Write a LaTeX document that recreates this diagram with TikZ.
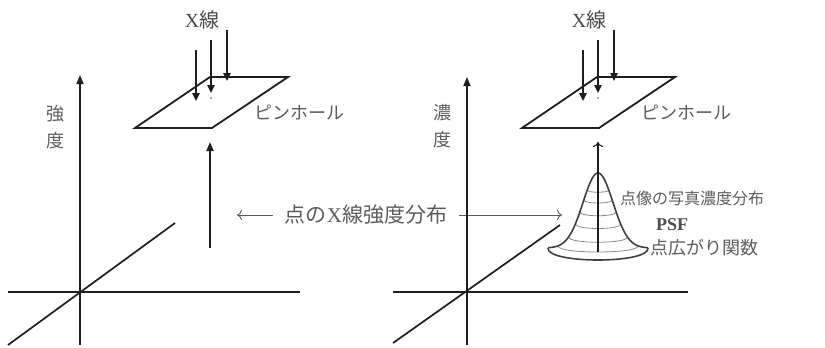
\documentclass[tikz,border=0pt]{standalone}
\usepackage{fontspec}
\setmainfont{Liberation Serif}
\newfontfamily\jp{Noto Sans CJK JP}
\usetikzlibrary{arrows.meta}
\definecolor{ink}{HTML}{1E1E1E}
\definecolor{txt}{HTML}{5C5C5C}
\definecolor{soft}{HTML}{8A8A8A}
\begin{document}
\begin{tikzpicture}[x=1pt,y=-1pt,
  axisline/.style={draw=ink,line width=1.7pt},
  axisarrow/.style={axisline,-{Triangle[length=9pt,width=7pt]}},
  ray/.style={draw=ink,line width=1.6pt,-{Triangle[length=8pt,width=7.5pt]}},
  pinplate/.style={draw=ink,line width=1.8pt,line join=miter},
  jlabel/.style={text=txt,inner sep=0pt,font=\jp\fontsize{18pt}{27pt}\selectfont},
  xlabel/.style={text=txt!80!black,inner sep=0pt,font=\fontsize{20pt}{24pt}\selectfont},
  pointer/.style={draw=txt,line width=0.9pt,-{To[length=5pt,width=10pt]}},
  bell/.style={draw=ink!85,line width=1.6pt},
  contour/.style={draw=soft,line width=0.8pt},
]
\useasboundingbox (0,0) rectangle (825,348);

% ---------- left: intensity ----------
\coordinate (lO) at (80,292);
\coordinate (lYb) at (80,345);  \coordinate (lYt) at (80,75);
\coordinate (lXl) at (8,292);   \coordinate (lXr) at (300,292);
\coordinate (lZb) at (8,345);   \coordinate (lZt) at (175,223);
\draw[axisarrow] (lYb) -- (lYt);
\draw[axisline] (lXl) -- (lXr);
\draw[axisline] (lZb) -- (lZt);
\node[jlabel,align=center] (lYlab) at (55,127) {強\\度};

% pinhole plate
\coordinate (lP1) at (135,128); \coordinate (lP2) at (212,128);
\coordinate (lP3) at (288,77);  \coordinate (lP4) at (210,77);
\draw[pinplate] (lP1) -- (lP2) -- (lP3) -- (lP4) -- cycle;
\node[jlabel] (lPin) at (299,112) {ピンホール};
\fill[soft] (211,98) circle (1.2);

% incoming X-rays
\node[xlabel] (lXray) at (202,20) {X{\jp 線}};
\coordinate (lR1a) at (196,50); \coordinate (lR1b) at (196,101);
\coordinate (lR2a) at (211,40); \coordinate (lR2b) at (211,93);
\coordinate (lR3a) at (227,30); \coordinate (lR3b) at (227,81);
\draw[ray] (lR1a) -- (lR1b);
\draw[ray] (lR2a) -- (lR2b);
\draw[ray] (lR3a) -- (lR3b);

% point intensity below the pinhole
\coordinate (lUa) at (210,248); \coordinate (lUb) at (210,142);
\draw[axisarrow] (lUa) -- (lUb);

% ---------- shared label ----------
\node[jlabel,font=\jp\fontsize{21pt}{24pt}\selectfont,inner xsep=12pt] (mid) at (366,215)
  {点の{\rmfamily X}線強度分布};
\coordinate (midL) at (237,215);
\coordinate (midR) at (562,215);
\draw[pointer] (mid.west) -- (midL);
\draw[pointer] (mid.east) -- (midR);

% ---------- right: density ----------
\coordinate (rO) at (467,292);
\coordinate (rYb) at (467,345);  \coordinate (rYt) at (467,77);
\coordinate (rXl) at (393,292);  \coordinate (rXr) at (688,292);
\coordinate (rZb) at (393,343);  \coordinate (rZt) at (560,225);
\draw[axisarrow] (rYb) -- (rYt);
\draw[axisline] (rXl) -- (rXr);
\draw[axisline] (rZb) -- (rZt);
\node[jlabel,align=center] (rYlab) at (442,126) {濃\\度};

% pinhole plate
\coordinate (rP1) at (522,128); \coordinate (rP2) at (599,128);
\coordinate (rP3) at (675,77);  \coordinate (rP4) at (597,77);
\draw[pinplate] (rP1) -- (rP2) -- (rP3) -- (rP4) -- cycle;
\node[jlabel] (rPin) at (686,112) {ピンホール};
\fill[soft] (598,98) circle (1.2);

% incoming X-rays
\node[xlabel] (rXray) at (589,20) {X{\jp 線}};
\coordinate (rR1a) at (583,50); \coordinate (rR1b) at (583,101);
\coordinate (rR2a) at (598,40); \coordinate (rR2b) at (598,93);
\coordinate (rR3a) at (614,30); \coordinate (rR3b) at (614,81);
\draw[ray] (rR1a) -- (rR1b);
\draw[ray] (rR2a) -- (rR2b);
\draw[ray] (rR3a) -- (rR3b);

% point spread function: bell with contour rings
\foreach \yy/\w/\d in {190/10.8/3, 200/14.2/4, 212/18.2/5, 224/22.6/6, 237/29.4/7, 246/40/8}
  \draw[contour] ({598-\w},\yy) .. controls ({598-\w},{\yy+\d}) and ({598+\w},{\yy+\d}) .. ({598+\w},\yy);
\draw[bell] plot[domain=-50:50,samples=81,smooth] ({598+\x},{248-75*exp(-\x*\x/450)});
\draw[bell] (548,248) .. controls (546,264) and (650,264) .. (648,248);
\coordinate (rUa) at (598,252); \coordinate (rUb) at (598,142);
\draw[draw=ink,line width=1.1pt,-{To[length=5pt,width=10pt]}] (rUa) -- (rUb);

\node[jlabel,font=\jp\fontsize{16pt}{20pt}\selectfont] (psfA) at (692,198) {点像の写真濃度分布};
\node[text=ink!80,inner sep=0pt,font=\bfseries\fontsize{18pt}{20pt}\selectfont] (psfB) at (672,225) {PSF};
\node[jlabel] (psfC) at (704,248) {点広がり関数};
\end{tikzpicture}
\end{document}
